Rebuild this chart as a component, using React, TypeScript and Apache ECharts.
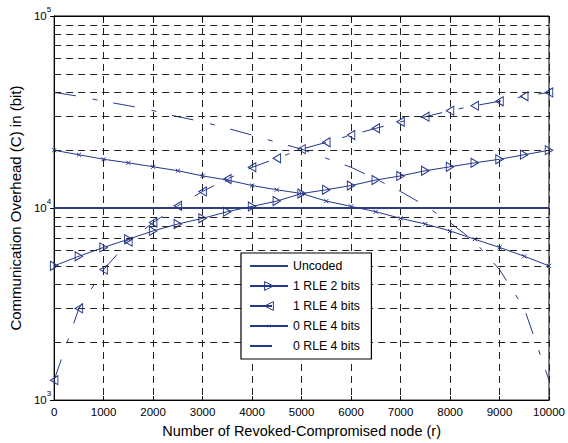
import React, { useEffect, useRef } from "react";
import * as echarts from "echarts";

// Number of revoked-compromised nodes (r)
const rValues = [0, 500, 1000, 1500, 2000, 2500, 3000, 3500, 4000, 4500, 5000, 5500, 6000, 6500, 7000, 7500, 8000, 8500, 9000, 9500, 10000];
const xTicks = [0, 1000, 2000, 3000, 4000, 5000, 6000, 7000, 8000, 9000, 10000];

const uncoded = [10000, 10000, 10000, 10000, 10000, 10000, 10000, 10000, 10000, 10000, 10000, 10000, 10000, 10000, 10000, 10000, 10000, 10000, 10000, 10000, 10000];
const rle1Bits2 = [5000, 5610, 6240, 6880, 7600, 8260, 8840, 9570, 10200, 10870, 11900, 12450, 13100, 13990, 14700, 15640, 16400, 17200, 17950, 18950, 20000];
const rle1Bits4 = [1270, 3000, 4780, 6680, 8400, 10280, 12210, 14160, 16300, 18150, 20270, 21980, 23990, 26000, 28140, 29890, 32140, 34130, 35970, 38200, 40000];
const rle0Bits4X = [20000, 18950, 17950, 17200, 16400, 15640, 14700, 13990, 13100, 12450, 11900, 10870, 10200, 9570, 8840, 8260, 7600, 6880, 6240, 5610, 5000];
const rle0Bits4Dash = [40000, 38200, 35970, 34130, 32140, 29890, 28140, 26000, 23990, 21980, 20270, 18150, 16300, 14160, 12210, 10280, 8400, 6680, 4780, 3000, 1270];

const seriesNames = ["Uncoded", "1 RLE 2 bits", "1 RLE 4 bits", "0 RLE 4 bits", "0 RLE 4 bits "];
const yMinorGrid = [2000, 3000, 4000, 5000, 6000, 7000, 8000, 9000, 20000, 30000, 40000, 50000, 60000, 70000, 80000, 90000];

const NAVY = "#24378a";
const FONT = "Liberation Sans, Arial, Helvetica, sans-serif";
const GRID_DASH = [7, 5];
const LINE_DASH = [22, 17, 5, 16];
const CROSS = "path://M-12,-12M0,0L10,10M10,0L0,10M22,22";
const HIDDEN = { color: "rgba(0,0,0,0)", borderColor: "rgba(0,0,0,0)", borderWidth: 0 };
const HOLLOW = { color: "rgba(0,0,0,0)", borderColor: NAVY, borderWidth: 1 };

const pair = (ys: number[]) => rValues.map((x, i) => [x, ys[i]]);

export default function App() {
  const ref = useRef<HTMLDivElement>(null);
  useEffect(() => {
    if (!ref.current) return;
    const chart = echarts.init(ref.current, undefined, { renderer: "svg" });
    const axisCommon = {
      axisLine: { lineStyle: { color: "#000", width: 1 } },
    };
    const legendStyles = [HIDDEN, HOLLOW, HOLLOW, HOLLOW, HIDDEN];
    chart.setOption({
      animation: false,
      backgroundColor: "#fff",
      textStyle: { fontFamily: FONT },
      grid: { left: 52, right: 19, top: 16, bottom: 41, show: true, borderColor: "#000", borderWidth: 1, backgroundColor: "transparent" },
      legend: {
        data: seriesNames.map((n, i) => ({ name: n, itemStyle: legendStyles[i] })),
        orient: "vertical",
        left: 241,
        top: 253,
        itemWidth: 38,
        itemHeight: 11,
        itemGap: 8,
        padding: [7, 8, 7, 8],
        borderColor: "#000",
        borderWidth: 1.2,
        backgroundColor: "#fff",
        textStyle: { fontSize: 12.3, color: "#000", fontFamily: FONT },
        z: 10,
      },
      xAxis: [
        {
          type: "value",
          min: 0,
          max: 10000,
          interval: 1000,
          name: "Number of Revoked-Compromised node (r)",
          nameLocation: "middle",
          nameGap: 21,
          nameTextStyle: { fontSize: 14.5, color: "#000", fontFamily: FONT },
          ...axisCommon,
          axisTick: { inside: true, length: 4, lineStyle: { color: "#000" } },
          axisLabel: { fontSize: 11.5, color: "#000", margin: 6, fontFamily: FONT, formatter: (v: number) => (xTicks.includes(v) ? String(v) : "") },
          splitLine: { show: true, lineStyle: { type: GRID_DASH, color: "#222", width: 1 } },
        },
        {
          type: "value",
          position: "top",
          min: 0,
          max: 10000,
          interval: 1000,
          ...axisCommon,
          axisTick: { inside: true, length: 4, lineStyle: { color: "#000" } },
          axisLabel: { show: false },
          splitLine: { show: false },
        },
      ],
      yAxis: [
        {
          type: "log",
          logBase: 10,
          min: 1000,
          max: 100000,
          name: "Communication Overhead (C) in (bit)",
          nameLocation: "middle",
          nameGap: 28,
          nameTextStyle: { fontSize: 15, color: "#000", fontFamily: FONT },
          ...axisCommon,
          axisTick: { inside: true, length: 4, lineStyle: { color: "#000" } },
          axisLabel: {
            margin: 3,
            color: "#000",
            formatter: (v: number) => `{b|10}{s|${Math.round(Math.log10(v))}}`,
            rich: {
              b: { fontSize: 11.5, color: "#000", fontFamily: FONT },
              s: { fontSize: 8, color: "#000", fontFamily: FONT, padding: [0, 0, 14, 0] },
            },
          },
          splitLine: { show: true, lineStyle: { type: GRID_DASH, color: "#222", width: 1 } },
        },
        {
          type: "log",
          logBase: 10,
          min: 1000,
          max: 100000,
          position: "right",
          ...axisCommon,
          axisTick: { inside: true, length: 4, lineStyle: { color: "#000" } },
          axisLabel: { show: false },
          splitLine: { show: false },
        },
      ],
      series: [
        {
          name: "minor-grid",
          type: "line",
          data: [],
          silent: true,
          z: 1,
          markLine: {
            silent: true,
            symbol: ["none", "none"],
            label: { show: false },
            lineStyle: { type: GRID_DASH, color: "#222", width: 1 },
            emphasis: { disabled: true },
            data: yMinorGrid.map((v) => ({ yAxis: v })),
          },
        },
        {
          name: seriesNames[0],
          type: "line",
          data: pair(uncoded),
          showSymbol: false,
          symbol: "circle",
          z: 3,
          lineStyle: { color: "#2c3e86", width: 2 },
          itemStyle: HIDDEN,
        },
        {
          name: seriesNames[1],
          type: "line",
          data: pair(rle1Bits2),
          symbol: "path://M0,0L8,4.5L0,9Z",
          symbolSize: [7.5, 9],
          symbolKeepAspect: false,
          z: 4,
          lineStyle: { color: NAVY, width: 1 },
          itemStyle: HOLLOW,
        },
        {
          name: seriesNames[2],
          type: "line",
          data: pair(rle1Bits4),
          symbol: "path://M8,0L0,4.5L8,9Z",
          symbolSize: [7.5, 9],
          symbolKeepAspect: false,
          z: 4,
          lineStyle: { color: NAVY, width: 1, type: LINE_DASH },
          itemStyle: HOLLOW,
        },
        {
          name: seriesNames[3],
          type: "line",
          data: pair(rle0Bits4X),
          symbol: CROSS,
          symbolSize: 14,
          z: 4,
          lineStyle: { color: NAVY, width: 1 },
          itemStyle: HOLLOW,
        },
        {
          name: seriesNames[4],
          type: "line",
          data: pair(rle0Bits4Dash),
          symbol: "circle",
          showSymbol: false,
          z: 4,
          lineStyle: { color: NAVY, width: 1, type: LINE_DASH },
          itemStyle: HIDDEN,
        },
      ],
    });
    return () => chart.dispose();
  }, []);
  return <div ref={ref} style={{ position: "fixed", left: 0, top: 0, width: 568, height: 443 }} />;
}
